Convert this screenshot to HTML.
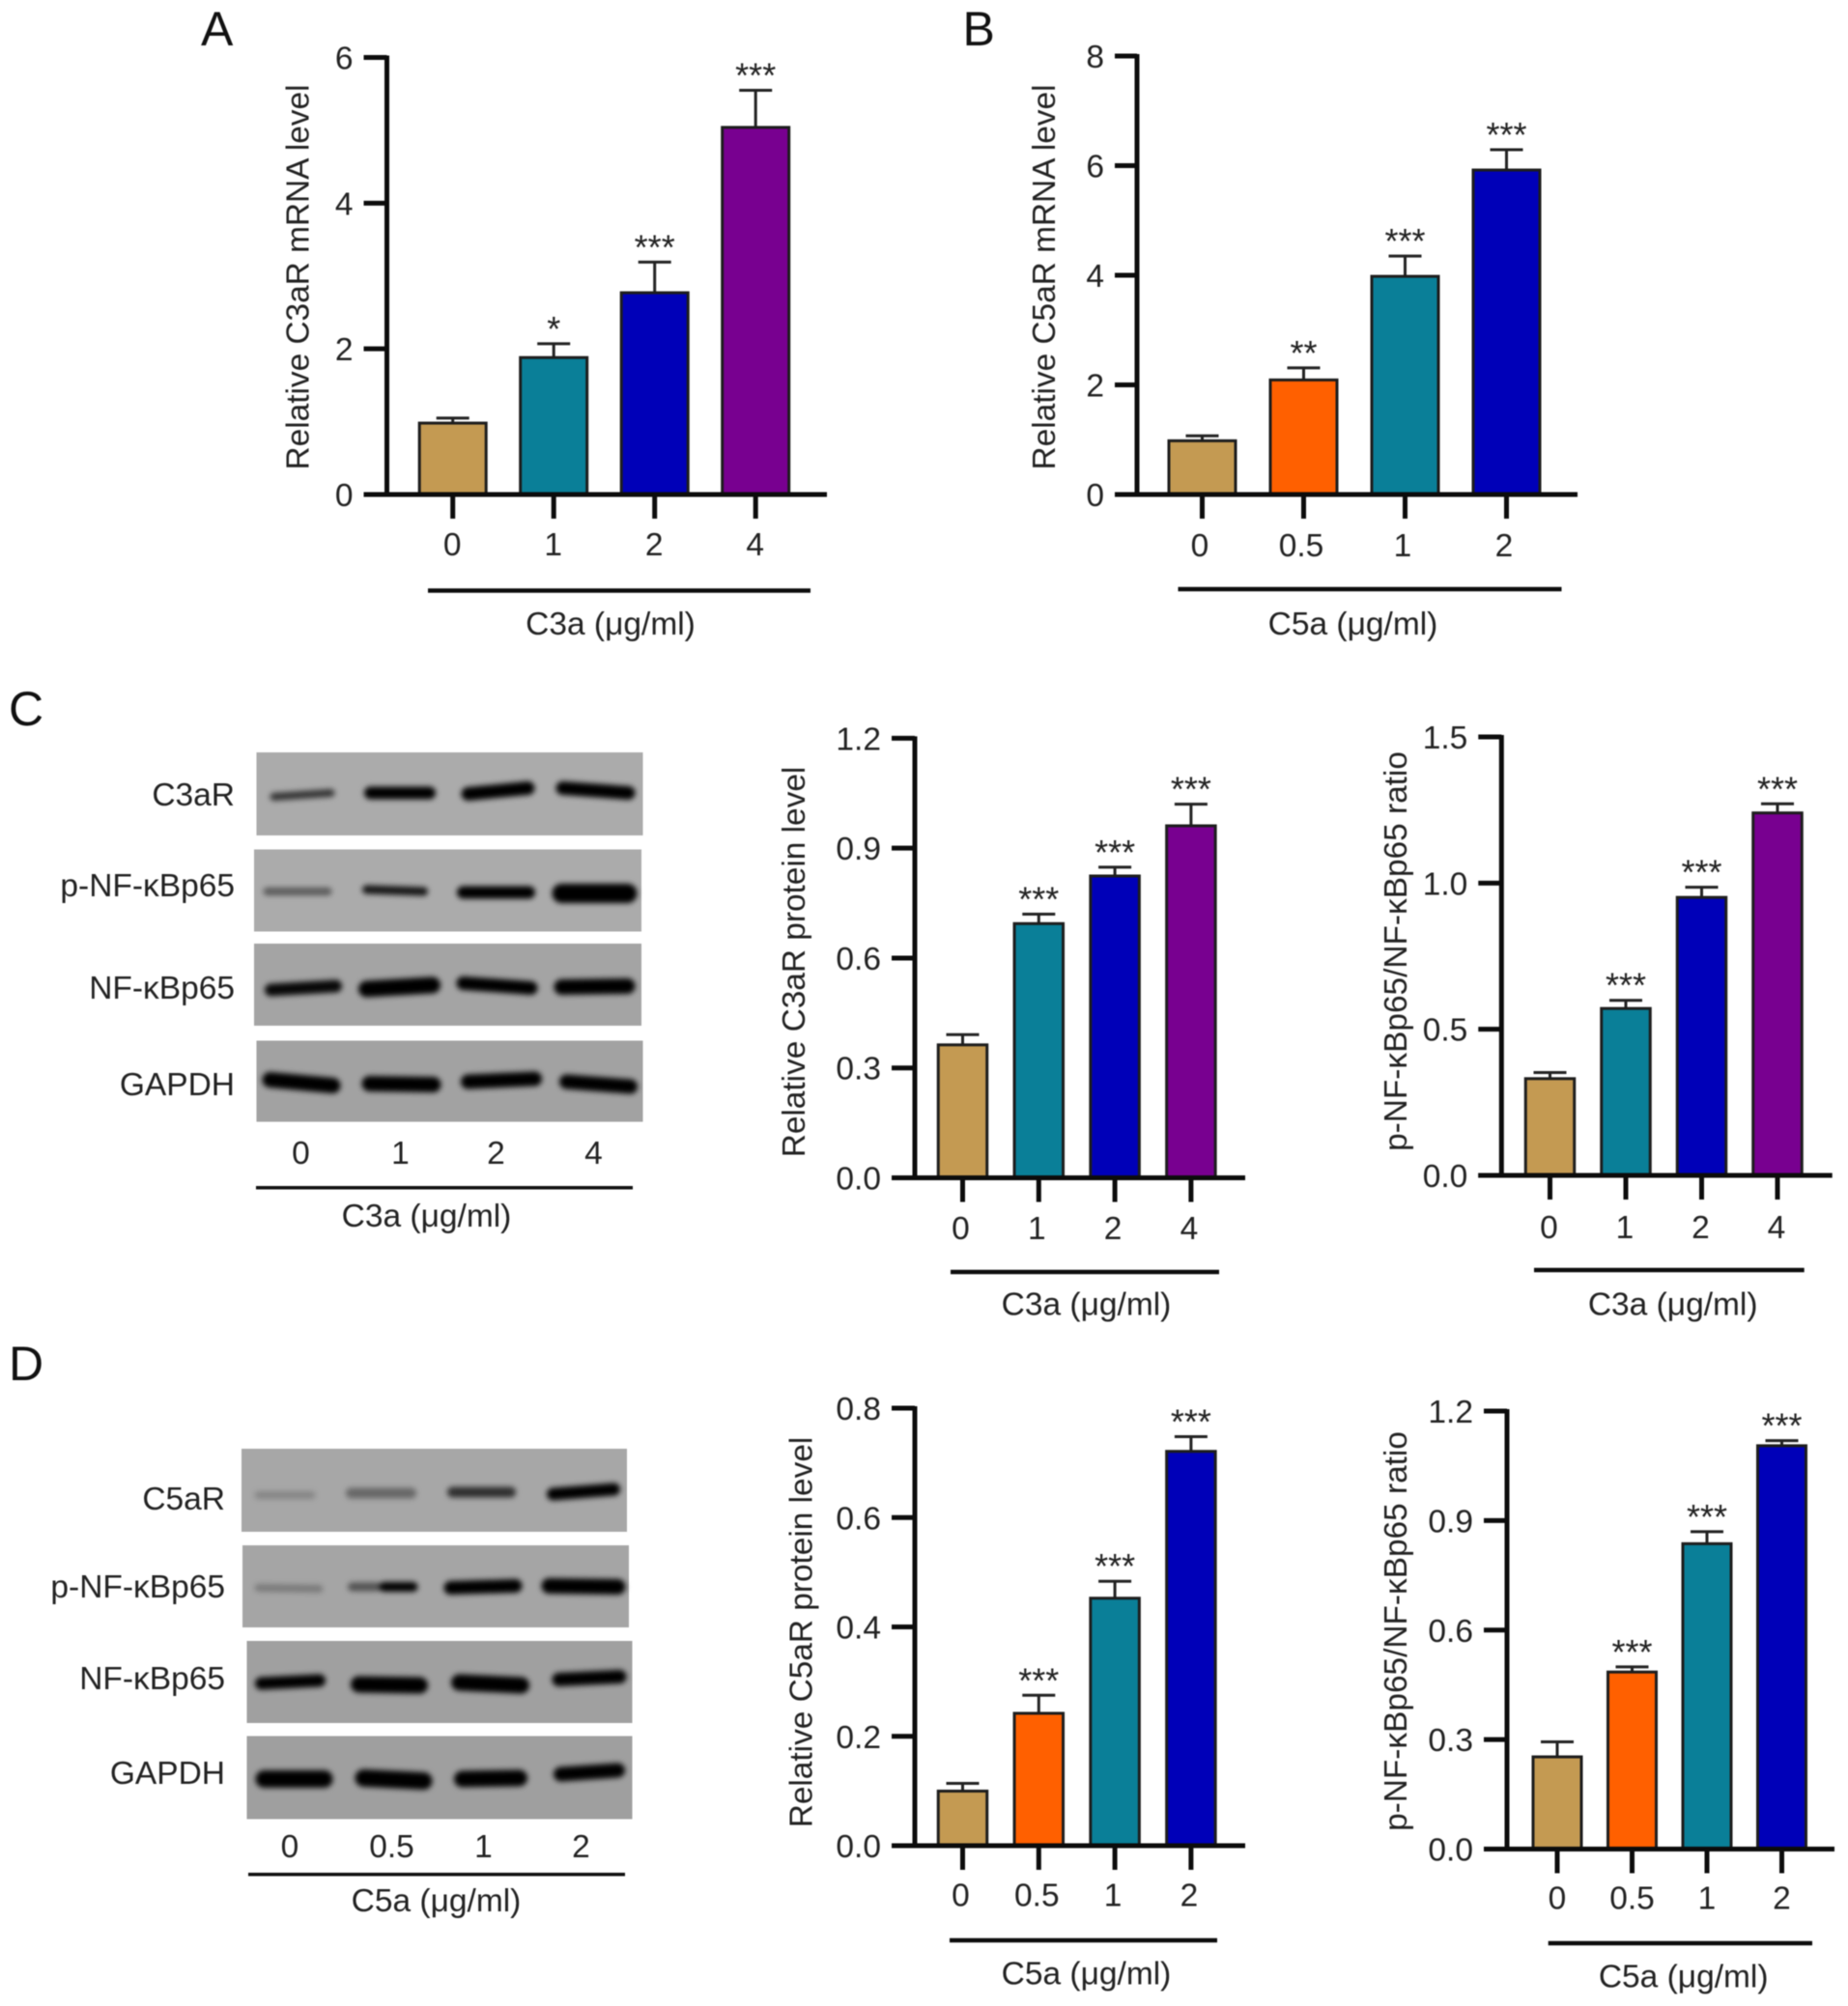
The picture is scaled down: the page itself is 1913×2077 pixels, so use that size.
<!DOCTYPE html>
<html lang="en">
<head>
<meta charset="utf-8">
<title>C3a and C5a receptor expression and NF-κB activation</title>
<style>
html,body{margin:0;padding:0;background:#fff;width:1913px;height:2077px;overflow:hidden}
svg{display:block;position:absolute;left:0;top:0;filter:blur(0.6px)}
text{font-family:"Liberation Sans",sans-serif;fill:#222}
.blot-band{fill:none;stroke:#050505;stroke-linecap:round}
.blot-label{font-size:33.5px;text-anchor:end}
.lane-label{font-size:33.5px;text-anchor:middle}
.caption{font-size:33.5px;text-anchor:middle}
.panel-letter{font-size:50px;fill:#111}
</style>
</head>
<body>
<svg id="figure" xmlns="http://www.w3.org/2000/svg" width="1913" height="2077" viewBox="0 0 1913 2077">
<defs>
<filter id="bandBlur" x="-20%" y="-200%" width="140%" height="500%"><feGaussianBlur stdDeviation="2.8"/></filter>
</defs>
<rect x="0" y="0" width="1913" height="2077" fill="#fff"/>

<text class="panel-letter" x="208" y="47">A</text>
<text class="panel-letter" x="996.5" y="47">B</text>
<text class="panel-letter" x="9" y="751">C</text>
<text class="panel-letter" x="9" y="1429">D</text>

<g>
  <rect x="265.5" y="779" width="400" height="86" fill="#ababab"/>
  <rect x="263" y="879.5" width="401" height="85" fill="#ababab"/>
  <rect x="263" y="977" width="401" height="85" fill="#a4a4a4"/>
  <rect x="265.5" y="1077.5" width="400" height="84" fill="#a2a2a2"/>
  <g filter="url(#bandBlur)" transform="translate(-1.5 -1)">
    <path class="blot-band" d="M285 826L344 822" stroke-width="8" opacity=".7"/>
    <path class="blot-band" d="M385 822L446 822" stroke-width="13"/>
    <path class="blot-band" d="M486 823L548 817" stroke-width="14"/>
    <path class="blot-band" d="M584 817L652 822" stroke-width="14"/>
    <path class="blot-band" d="M278 924L341 924" stroke-width="8" opacity=".48"/>
    <path class="blot-band" d="M381 922L440 924" stroke-width="9" opacity=".88"/>
    <path class="blot-band" d="M481 925L549 925" stroke-width="13"/>
    <path class="blot-band" d="M583 926L651 926" stroke-width="20"/>
    <path class="blot-band" d="M282 1026L349 1022" stroke-width="13" opacity=".95"/>
    <path class="blot-band" d="M381 1025L449 1021" stroke-width="17"/>
    <path class="blot-band" d="M481 1019L551 1024" stroke-width="14"/>
    <path class="blot-band" d="M583 1023L651 1022" stroke-width="16"/>
    <path class="blot-band" d="M281 1119L346 1125" stroke-width="16"/>
    <path class="blot-band" d="M384 1123L450 1124" stroke-width="16"/>
    <path class="blot-band" d="M486 1121L555 1118" stroke-width="15"/>
    <path class="blot-band" d="M588 1121L654 1126" stroke-width="15"/>
  </g>
  <text class="blot-label" x="243" y="834">C3aR</text>
  <text class="blot-label" x="243" y="928">p-NF-κBp65</text>
  <text class="blot-label" x="243" y="1034">NF-κBp65</text>
  <text class="blot-label" x="243" y="1134">GAPDH</text>
  <text class="lane-label" x="311.5" y="1205">0</text>
  <text class="lane-label" x="414.5" y="1205">1</text>
  <text class="lane-label" x="513.5" y="1205">2</text>
  <text class="lane-label" x="614.5" y="1205">4</text>
  <rect x="265" y="1228" width="390" height="3.5" fill="#111"/>
  <text class="caption" x="441.5" y="1270">C3a (μg/ml)</text>
</g>

<g>
  <rect x="250" y="1500" width="399" height="86" fill="#a7a7a7"/>
  <rect x="251" y="1600" width="400" height="85" fill="#a5a5a5"/>
  <rect x="255.5" y="1699" width="399" height="85" fill="#a0a0a0"/>
  <rect x="255.5" y="1797.5" width="399" height="86" fill="#9f9f9f"/>
  <g filter="url(#bandBlur)" transform="translate(-1.5 -1)">
    <path class="blot-band" d="M269 1549L324 1549" stroke-width="8" opacity=".2"/>
    <path class="blot-band" d="M365 1547L427 1547" stroke-width="11" opacity=".38"/>
    <path class="blot-band" d="M470 1546L530 1546" stroke-width="11" opacity=".72"/>
    <path class="blot-band" d="M574 1548L637 1543" stroke-width="13"/>
    <path class="blot-band" d="M269 1645L332 1646" stroke-width="8" opacity=".26"/>
    <path class="blot-band" d="M366 1644L392 1644" stroke-width="9" opacity=".5"/>
    <path class="blot-band" d="M399 1644L429 1644" stroke-width="10"/>
    <path class="blot-band" d="M468 1645L535 1643" stroke-width="14"/>
    <path class="blot-band" d="M570 1643L641 1644" stroke-width="16"/>
    <path class="blot-band" d="M272 1744L332 1741" stroke-width="13"/>
    <path class="blot-band" d="M373 1745L436 1746" stroke-width="17"/>
    <path class="blot-band" d="M477 1743L541 1746" stroke-width="17"/>
    <path class="blot-band" d="M580 1740L643 1737" stroke-width="14"/>
    <path class="blot-band" d="M275 1843L337 1843" stroke-width="18"/>
    <path class="blot-band" d="M378 1842L440 1845" stroke-width="18"/>
    <path class="blot-band" d="M480 1843L539 1842" stroke-width="17"/>
    <path class="blot-band" d="M582 1838L641 1834" stroke-width="15"/>
  </g>
  <text class="blot-label" x="233" y="1563">C5aR</text>
  <text class="blot-label" x="233" y="1654">p-NF-κBp65</text>
  <text class="blot-label" x="233" y="1749">NF-κBp65</text>
  <text class="blot-label" x="233" y="1847">GAPDH</text>
  <text class="lane-label" x="300" y="1923">0</text>
  <text class="lane-label" x="405.5" y="1923">0.5</text>
  <text class="lane-label" x="500.5" y="1923">1</text>
  <text class="lane-label" x="601.5" y="1923">2</text>
  <rect x="257" y="1939" width="390" height="3.5" fill="#111"/>
  <text class="caption" x="451.5" y="1979">C5a (μg/ml)</text>
</g>
<g id="charts"></g>
</svg>
<script>
// Panel A
const aCategories = ['0', '1', '2', '4'];
const aValues = [0.98, 1.88, 2.77, 5.04];
const aErrors = [0.07, 0.19, 0.42, 0.51];
const aSignificance = ['', '*', '***', '***'];
const aTicks = ['0', '2', '4', '6'];
// Panel B
const bCategories = ['0', '0.5', '1', '2'];
const bValues = [0.98, 2.09, 3.98, 5.92];
const bErrors = [0.09, 0.22, 0.37, 0.37];
const bSignificance = ['', '**', '***', '***'];
const bTicks = ['0', '2', '4', '6', '8'];
// Panel C, receptor protein
const c1Categories = ['0', '1', '2', '4'];
const c1Values = [0.363, 0.694, 0.824, 0.961];
const c1Errors = [0.028, 0.026, 0.024, 0.059];
const c1Significance = ['', '***', '***', '***'];
const c1Ticks = ['0.0', '0.3', '0.6', '0.9', '1.2'];
// Panel C, phospho ratio
const c2Categories = ['0', '1', '2', '4'];
const c2Values = [0.331, 0.571, 0.951, 1.24];
const c2Errors = [0.021, 0.028, 0.035, 0.031];
const c2Significance = ['', '***', '***', '***'];
const c2Ticks = ['0.0', '0.5', '1.0', '1.5'];
// Panel D, receptor protein
const d1Categories = ['0', '0.5', '1', '2'];
const d1Values = [0.0998, 0.242, 0.4525, 0.721];
const d1Errors = [0.014, 0.033, 0.031, 0.027];
const d1Significance = ['', '***', '***', '***'];
const d1Ticks = ['0.0', '0.2', '0.4', '0.6', '0.8'];
// Panel D, phospho ratio
const d2Categories = ['0', '0.5', '1', '2'];
const d2Values = [0.2526, 0.485, 0.8366, 1.105];
const d2Errors = [0.041, 0.014, 0.033, 0.014];
const d2Significance = ['', '***', '***', '***'];
const d2Ticks = ['0.0', '0.3', '0.6', '0.9', '1.2'];

const TAN = '#c49a52', TEAL = '#0a7f98', BLUE = '#0000b8', PURPLE = '#780090', ORANGE = '#ff6000';
const NS = 'http://www.w3.org/2000/svg';
const root = document.getElementById('charts');

function make(parent, tag, props, text) {
  const el = document.createElementNS(NS, tag);
  for (const k in props) el.setAttribute(k, props[k]);
  if (text !== undefined) el.textContent = text;
  parent.appendChild(el);
  return el;
}

function drawChart(cfg, categories, values, errors, significance, ticks) {
  const id = cfg.id;
  const g = make(root, 'g', {});
  
  

  const yMax = parseFloat(ticks[ticks.length - 1]);
  const yScale = v => cfg.y0 - (v / yMax) * (cfg.y0 - cfg.yTop);
  const xScale = i => cfg.x0 + cfg.step * i;

  // bars, error bars, stars
  categories.forEach(function (cat, i) {
    const cx = xScale(i);
    const top = yScale(values[i]);
    const cap = yScale(values[i] + errors[i]);

    const stem = make(g, 'line', { x1: cx, x2: cx, y1: top, y2: cap, stroke: '#222', 'stroke-width': 3 });
    
    

    const capLine = make(g, 'line', { x1: cx - 17, x2: cx + 17, y1: cap, y2: cap, stroke: '#222', 'stroke-width': 3 });
    
    

    const bar = make(g, 'rect', {
      x: cx - cfg.barWidth / 2, y: top, width: cfg.barWidth, height: cfg.y0 - top,
      fill: cfg.colors[i], stroke: '#1d1d1d', 'stroke-width': 3
    });
    
    

    if (significance[i]) {
      const star = make(g, 'text', { x: cx, y: cap - 3, 'text-anchor': 'middle', 'font-size': 36 }, significance[i]);
      
      
    }

    const xTick = make(g, 'line', { x1: cx, x2: cx, y1: cfg.y0, y2: cfg.y0 + 25, stroke: '#0c0c0c', 'stroke-width': 5 });
    
    

    const xLabel = make(g, 'text', { x: cx + cfg.labelDx, y: cfg.labelY + 12, 'text-anchor': 'middle', 'font-size': 33.5 }, cat);
    
    
  });

  // y axis and ticks
  const yAxis = make(g, 'line', { x1: cfg.axisX, x2: cfg.axisX, y1: cfg.yTop - 2, y2: cfg.y0, stroke: '#0c0c0c', 'stroke-width': 5 });
  
  

  ticks.forEach(function (t, i) {
    const y = yScale(parseFloat(t));
    const tick = make(g, 'line', { x1: cfg.axisX - cfg.tickLen, x2: cfg.axisX, y1: y, y2: y, stroke: '#0c0c0c', 'stroke-width': 5 });
    
    

    const lab = make(g, 'text', { x: cfg.axisX - cfg.tickLen - 11, y: y + 12, 'text-anchor': 'end', 'font-size': 33.5 }, t);
    
    
  });

  // x axis
  const xAxis = make(g, 'line', { x1: cfg.axisX - cfg.tickLen, x2: cfg.xEnd, y1: cfg.y0, y2: cfg.y0, stroke: '#0c0c0c', 'stroke-width': 5 });
  
  

  // y title
  const title = make(g, 'text', {
    x: 0, y: 0, 'text-anchor': 'middle', 'font-size': 33.4,
    transform: 'translate(' + (cfg.titleX + 12) + ' ' + cfg.titleY + ') rotate(-90)'
  }, cfg.title);
  
  

  // dose line and caption
  const dose = make(g, 'line', { x1: cfg.lineX1, x2: cfg.lineX2, y1: cfg.lineY, y2: cfg.lineY, stroke: '#0c0c0c', 'stroke-width': 4.5 });
  
  

  const caption = make(g, 'text', { x: cfg.capX, y: cfg.capY + 12, 'text-anchor': 'middle', 'font-size': 33.5 }, cfg.caption);
  
  
}

drawChart({ id: 'panel-a', axisX: 400.5, tickLen: 24, y0: 512, yTop: 59.5, xEnd: 856, x0: 468.7, step: 104.5, barWidth: 69, labelDx: -0.5, labelY: 563,
  colors: [TAN, TEAL, BLUE, PURPLE], title: 'Relative C3aR mRNA level', titleX: 307.5, titleY: 287,
  lineX1: 443, lineX2: 839, lineY: 611.5, caption: 'C3a (μg/ml)', capX: 632, capY: 645 }, aCategories, aValues, aErrors, aSignificance, aTicks);

drawChart({ id: 'panel-b', axisX: 1177, tickLen: 23, y0: 512, yTop: 58, xEnd: 1633, x0: 1244.5, step: 105, barWidth: 69, labelDx: -2.5, labelY: 564,
  colors: [TAN, ORANGE, TEAL, BLUE], title: 'Relative C5aR mRNA level', titleX: 1080, titleY: 287,
  lineX1: 1219.5, lineX2: 1616.5, lineY: 610, caption: 'C5a (μg/ml)', capX: 1400.5, capY: 645 }, bCategories, bValues, bErrors, bSignificance, bTicks);

drawChart({ id: 'panel-c-protein', axisX: 947, tickLen: 24, y0: 1219.5, yTop: 764.4, xEnd: 1289, x0: 996.5, step: 78.8, barWidth: 50.5, labelDx: -2, labelY: 1271,
  colors: [TAN, TEAL, BLUE, PURPLE], title: 'Relative C3aR protein level', titleX: 821, titleY: 996,
  lineX1: 984, lineX2: 1262, lineY: 1317, caption: 'C3a (μg/ml)', capX: 1124.5, capY: 1349.5 }, c1Categories, c1Values, c1Errors, c1Significance, c1Ticks);

drawChart({ id: 'panel-c-ratio', axisX: 1554.3, tickLen: 24, y0: 1217, yTop: 763, xEnd: 1896.7, x0: 1604.5, step: 78.5, barWidth: 50.5, labelDx: -1, labelY: 1270,
  colors: [TAN, TEAL, BLUE, PURPLE], title: 'p-NF-κBp65/NF-κBp65 ratio', titleX: 1444, titleY: 985,
  lineX1: 1588, lineX2: 1867.7, lineY: 1315, caption: 'C3a (μg/ml)', capX: 1731.7, capY: 1349.5 }, c2Categories, c2Values, c2Errors, c2Significance, c2Ticks);

drawChart({ id: 'panel-d-protein', axisX: 947, tickLen: 24, y0: 1911, yTop: 1458, xEnd: 1289, x0: 996.5, step: 78.8, barWidth: 50.5, labelDx: -2, labelY: 1961.5,
  colors: [TAN, ORANGE, TEAL, BLUE], title: 'Relative C5aR protein level', titleX: 828.5, titleY: 1690,
  lineX1: 983, lineX2: 1260, lineY: 2009, caption: 'C5a (μg/ml)', capX: 1124.5, capY: 2042.5 }, d1Categories, d1Values, d1Errors, d1Significance, d1Ticks);

drawChart({ id: 'panel-d-ratio', axisX: 1560, tickLen: 24, y0: 1914.5, yTop: 1461, xEnd: 1899, x0: 1612, step: 77.5, barWidth: 50, labelDx: 0, labelY: 1964.5,
  colors: [TAN, ORANGE, TEAL, BLUE], title: 'p-NF-κBp65/NF-κBp65 ratio', titleX: 1444, titleY: 1689,
  lineX1: 1602.7, lineX2: 1876, lineY: 2012, caption: 'C5a (μg/ml)', capX: 1742.7, capY: 2045.5 }, d2Categories, d2Values, d2Errors, d2Significance, d2Ticks);
</script>
</body>
</html>
